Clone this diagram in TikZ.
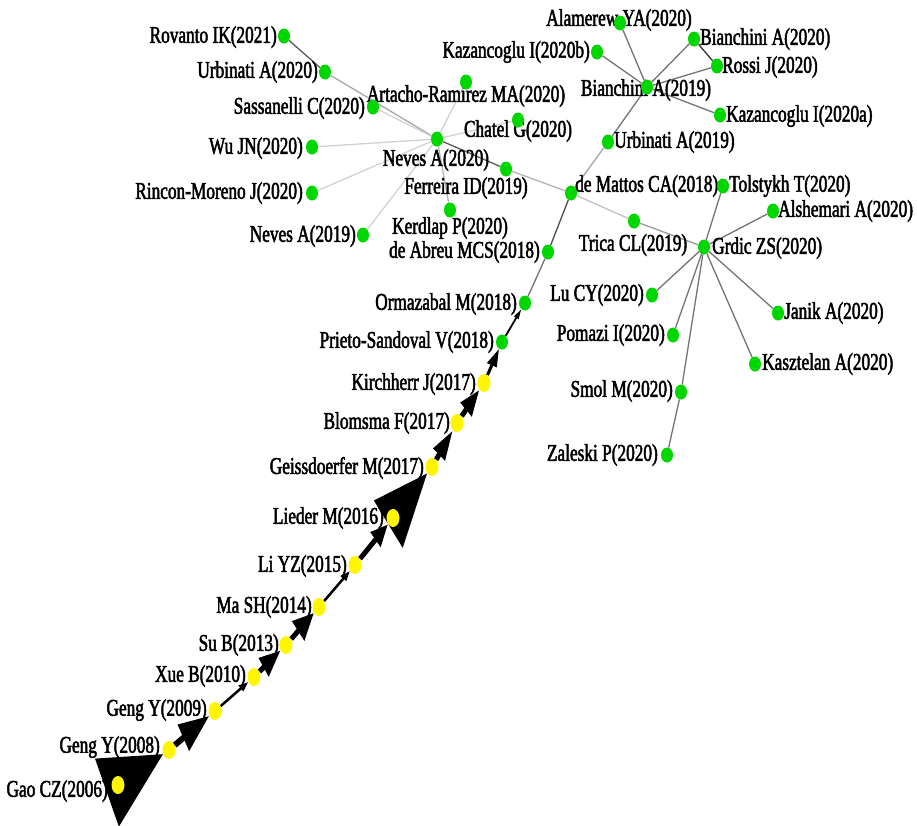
\documentclass[tikz,border=0pt]{standalone}
\usepackage{fontspec}
\setmainfont[FakeStretch=0.72,FakeBold=2]{Liberation Serif}
\usetikzlibrary{shapes.geometric,arrows.meta,backgrounds}
\definecolor{dotgreen}{RGB}{0,214,0}
\definecolor{dotyellow}{RGB}{255,245,0}
\tikzset{
  gdot/.style={ellipse,fill=dotgreen,minimum width=12pt,minimum height=15pt,inner sep=0pt},
  ydot/.style={ellipse,fill=dotyellow,minimum width=13pt,minimum height=18pt,inner sep=0pt},
  lbl/.style={inner sep=0pt,font=\fontsize{24}{26}\selectfont},
  lnk/.style={draw=black!55,line width=1.3pt},
  faint/.style={draw=black!18,line width=1.3pt},
  mainp/.style={draw=black,fill=black},
}
\begin{document}
\begin{tikzpicture}[x=1pt,y=-1pt]
\useasboundingbox (0,0) rectangle (917,825);
% labels
\node[lbl,anchor=east] (gao-l) at (108,791) {Gao CZ(2006)};
\node[lbl,anchor=east] (gengA-l) at (160,747) {Geng Y(2008)};
\node[lbl,anchor=east] (gengB-l) at (207,710) {Geng Y(2009)};
\node[lbl,anchor=east] (xue-l) at (246,676) {Xue B(2010)};
\node[lbl,anchor=east] (su-l) at (279,645) {Su B(2013)};
\node[lbl,anchor=east] (ma-l) at (312,607) {Ma SH(2014)};
\node[lbl,anchor=east] (li-l) at (347,566) {Li YZ(2015)};
\node[lbl,anchor=east] (lieder-l) at (384,518) {Lieder M(2016)};
\node[lbl,anchor=east] (geiss-l) at (424,468) {Geissdoerfer M(2017)};
\node[lbl,anchor=east] (blomsma-l) at (450,423) {Blomsma F(2017)};
\node[lbl,anchor=east] (kirch-l) at (476,384) {Kirchherr J(2017)};
\node[lbl,anchor=east] (prieto-l) at (494,342) {Prieto-Sandoval V(2018)};
\node[lbl,anchor=east] (ormaz-l) at (517,304) {Ormazabal M(2018)};
\node[lbl,anchor=east] (abreu-l) at (540,252) {de Abreu MCS(2018)};
\node[lbl,anchor=west] (mattos-l) at (575,186) {de Mattos CA(2018)};
\node[lbl,anchor=west] (urbB-l) at (614,142) {Urbinati A(2019)};
\node[lbl] (bianA-l) at (646,90) {Bianchini A(2019)};
\node[lbl] (alam-l) at (619,20) {Alamerew YA(2020)};
\node[lbl,anchor=west] (bianB-l) at (700,39) {Bianchini A(2020)};
\node[lbl,anchor=west] (rossi-l) at (722,67) {Rossi J(2020)};
\node[lbl,anchor=east] (kazB-l) at (590,52) {Kazancoglu I(2020b)};
\node[lbl,anchor=west] (kazA-l) at (726,116) {Kazancoglu I(2020a)};
\node[lbl,anchor=west] (tolst-l) at (729,186) {Tolstykh T(2020)};
\node[lbl,anchor=west] (alsh-l) at (778,211) {Alshemari A(2020)};
\node[lbl] (trica-l) at (633,245) {Trica CL(2019)};
\node[lbl,anchor=west] (grdic-l) at (712,248) {Grdic ZS(2020)};
\node[lbl,anchor=east] (lu-l) at (644,295) {Lu CY(2020)};
\node[lbl,anchor=west] (janik-l) at (784,313) {Janik A(2020)};
\node[lbl,anchor=east] (pomazi-l) at (665,335) {Pomazi I(2020)};
\node[lbl,anchor=west] (kaszt-l) at (762,364) {Kasztelan A(2020)};
\node[lbl,anchor=east] (smol-l) at (673,391) {Smol M(2020)};
\node[lbl,anchor=east] (zaleski-l) at (658,455) {Zaleski P(2020)};
\node[lbl,anchor=east] (rovanto-l) at (277,37) {Rovanto IK(2021)};
\node[lbl,anchor=east] (urbA-l) at (318,72) {Urbinati A(2020)};
\node[lbl,anchor=east] (sassa-l) at (365,108) {Sassanelli C(2020)};
\node[lbl] (artacho-l) at (466,96) {Artacho-Ramirez MA(2020)};
\node[lbl] (chatel-l) at (518,131) {Chatel G(2020)};
\node[lbl,anchor=east] (wu-l) at (303,148) {Wu JN(2020)};
\node[lbl] (nevesA-l) at (436,160) {Neves A(2020)};
\node[lbl,anchor=east] (rincon-l) at (303,193) {Rincon-Moreno J(2020)};
\node[lbl] (ferreira-l) at (466,188) {Ferreira ID(2019)};
\node[lbl] (kerdlap-l) at (450,228) {Kerdlap P(2020)};
\node[lbl,anchor=east] (nevesB-l) at (356,236) {Neves A(2019)};
% dots
\node[ydot] (gao) at (118,785) {};
\node[ydot] (gengA) at (169,750) {};
\node[ydot] (gengB) at (215,711) {};
\node[ydot] (xue) at (254,677) {};
\node[ydot] (su) at (286,645) {};
\node[ydot] (ma) at (319,607) {};
\node[ydot] (li) at (355,565) {};
\node[ydot] (lieder) at (393,518) {};
\node[ydot] (geiss) at (432,467) {};
\node[ydot] (blomsma) at (457,423) {};
\node[ydot] (kirch) at (484,383) {};
\node[gdot] (prieto) at (502,342) {};
\node[gdot] (ormaz) at (525,303) {};
\node[gdot] (abreu) at (548,252) {};
\node[gdot] (mattos) at (571,193) {};
\node[gdot] (urbB) at (608,142) {};
\node[gdot] (bianA) at (647,87) {};
\node[gdot] (alam) at (620,23) {};
\node[gdot] (bianB) at (694,39) {};
\node[gdot] (rossi) at (717,66) {};
\node[gdot] (kazB) at (597,52) {};
\node[gdot] (kazA) at (720,115) {};
\node[gdot] (tolst) at (723,186) {};
\node[gdot] (alsh) at (773,211) {};
\node[gdot] (trica) at (634,221) {};
\node[gdot] (grdic) at (704,247) {};
\node[gdot] (lu) at (652,295) {};
\node[gdot] (janik) at (778,313) {};
\node[gdot] (pomazi) at (673,335) {};
\node[gdot] (kaszt) at (755,364) {};
\node[gdot] (smol) at (681,392) {};
\node[gdot] (zaleski) at (667,455) {};
\node[gdot] (rovanto) at (284,36) {};
\node[gdot] (urbA) at (325,72) {};
\node[gdot] (sassa) at (373,107) {};
\node[gdot] (artacho) at (466,82) {};
\node[gdot] (chatel) at (518,120) {};
\node[gdot] (nevesA) at (437,139) {};
\node[gdot] (wu) at (312,147) {};
\node[gdot] (ferreira) at (506,169) {};
\node[gdot] (rincon) at (312,193) {};
\node[gdot] (kerdlap) at (450,210) {};
\node[gdot] (nevesB) at (363,235) {};
\begin{pgfonlayer}{background}
% main path
\draw[mainp,line width=6pt,-{Triangle[length=68pt,width=68pt,slant=0.27]}] (gao) -- (gengA);
\draw[mainp,line width=6pt,-{Triangle[length=34pt,width=26pt,slant=0.3]}] (gengA) -- (gengB);
\draw[mainp,line width=2.5pt,-{Triangle[length=10pt,width=7pt]}] (gengB) -- (xue);
\draw[mainp,line width=5pt,-{Triangle[length=24pt,width=19pt,slant=0.3]}] (xue) -- (su);
\draw[mainp,line width=5pt,-{Triangle[length=24pt,width=21pt,slant=0.3]}] (su) -- (ma);
\draw[mainp,line width=2.5pt,-{Triangle[length=10pt,width=7pt]}] (ma) -- (li);
\draw[mainp,line width=5pt,-{Triangle[length=20pt,width=16pt,slant=0.3]}] (li) -- (lieder);
\draw[mainp,line width=6pt,-{Triangle[length=64pt,width=50pt,slant=0.39]}] (lieder) -- (geiss);
\draw[mainp,line width=5pt,-{Triangle[length=28pt,width=15pt,slant=0.3]}] (geiss) -- (blomsma);
\draw[mainp,line width=5pt,-{Triangle[length=24pt,width=16pt,slant=0.3]}] (blomsma) -- (kirch);
\draw[mainp,line width=3pt,-{Triangle[length=18pt,width=10pt]}] (kirch) -- (prieto);
\draw[mainp,line width=1.8pt,-{Triangle[length=10pt,width=5pt]}] (prieto) -- (ormaz);
% links
\draw[lnk] (ormaz) -- (abreu);
\draw[lnk,draw=black!70] (abreu) -- (mattos);
\draw[lnk,draw=black!35] (mattos) -- (urbB);
\draw[lnk] (urbB) -- (bianA);
\draw[lnk] (bianA) -- (alam);
\draw[lnk] (bianA) -- (bianB);
\draw[lnk] (bianA) -- (rossi);
\draw[lnk] (bianA) -- (kazB);
\draw[lnk] (bianA) -- (kazA);
\draw[lnk,draw=black!80] (bianB) -- (rossi);
\draw[lnk,draw=black!65] (nevesA) -- (ferreira);
\draw[lnk,draw=black!30] (ferreira) -- (mattos);
\draw[lnk,draw=black!25] (mattos) -- (trica);
\draw[lnk,draw=black!40] (trica) -- (grdic);
\draw[lnk] (grdic) -- (tolst);
\draw[lnk] (grdic) -- (alsh);
\draw[lnk] (grdic) -- (lu);
\draw[lnk] (grdic) -- (pomazi);
\draw[lnk] (grdic) -- (smol);
\draw[lnk] (grdic) -- (janik);
\draw[lnk] (grdic) -- (kaszt);
\draw[lnk] (smol) -- (zaleski);
\draw[lnk,draw=black!65] (rovanto) -- (urbA);
\draw[lnk,draw=black!35] (urbA) -- (nevesA);
\draw[faint] (sassa) -- (nevesA);
\draw[faint] (artacho) -- (nevesA);
\draw[faint] (chatel) -- (nevesA);
\draw[faint] (wu) -- (nevesA);
\draw[faint] (rincon) -- (nevesA);
\draw[faint] (nevesB) -- (nevesA);
\draw[faint,draw=black!30] (kerdlap) -- (nevesA);
\end{pgfonlayer}
\end{tikzpicture}
\end{document}
